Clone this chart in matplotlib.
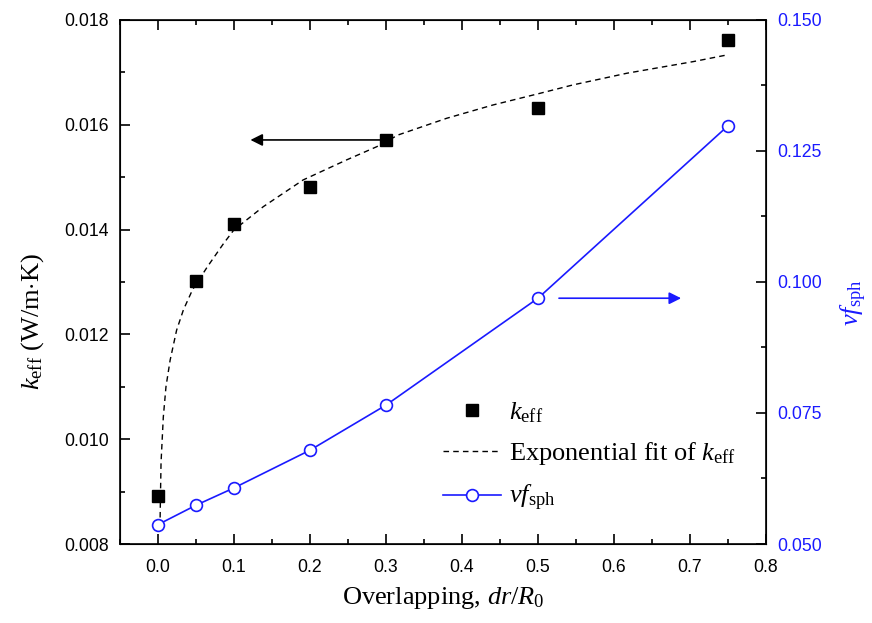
import matplotlib.pyplot as plt
from matplotlib.ticker import MultipleLocator

# data
overlap = [0.0, 0.05, 0.1, 0.2, 0.3, 0.5, 0.75]
k_eff = [0.00892, 0.01302, 0.01411, 0.01482, 0.01571, 0.01632, 0.01762]
vf_sph = [0.0537, 0.0574, 0.0607, 0.0679, 0.0765, 0.0969, 0.1298]

# points
fit_x = [0.0026, 0.004, 0.007, 0.0105, 0.016, 0.0245, 0.0335, 0.0454, 0.065,
         0.0866, 0.0997, 0.1386, 0.191, 0.248, 0.288, 0.316, 0.380, 0.441,
         0.503, 0.546, 0.617, 0.704, 0.748]
fit_k = [0.00832, 0.00955, 0.01042, 0.0110, 0.01151, 0.01208, 0.01247, 0.01285,
         0.01329, 0.01374, 0.01399, 0.014437, 0.014947, 0.015328, 0.015582,
         0.015805, 0.016124, 0.016378, 0.016601, 0.01676, 0.016983, 0.017204, 0.01733]

serif = 'Liberation Serif'
sans = 'Liberation Sans'
blue = '#1a1aff'

plt.rcParams['mathtext.fontset'] = 'custom'
plt.rcParams['mathtext.rm'] = serif
plt.rcParams['mathtext.it'] = serif + ':italic'
plt.rcParams['mathtext.bf'] = serif + ':bold'

fig = plt.figure(figsize=(8.72, 6.23), dpi=100)
ax = fig.add_axes([0.1376, 0.1268, 0.7408, 0.8412])
ax2 = ax.twinx()

l1, = ax.plot(overlap, k_eff, 's', color='black', markersize=8, linestyle='none')
l2, = ax.plot(fit_x, fit_k, '--', color='black', linewidth=1, dashes=(4, 3))
l3, = ax2.plot(overlap, vf_sph, '-o', color=blue, linewidth=1.2, markersize=8.5,
               markerfacecolor='white', markeredgecolor=blue, markeredgewidth=1.2)

ax.set_xlim(-0.05, 0.8)
ax.set_ylim(0.008, 0.018)
ax2.set_ylim(0.050, 0.150)

ax.xaxis.set_major_locator(MultipleLocator(0.1))
ax.xaxis.set_minor_locator(MultipleLocator(0.05))
ax.yaxis.set_major_locator(MultipleLocator(0.002))
ax.yaxis.set_minor_locator(MultipleLocator(0.001))
ax2.yaxis.set_major_locator(MultipleLocator(0.025))
ax2.yaxis.set_minor_locator(MultipleLocator(0.0125))

ax.tick_params(which='both', direction='in', top=True, width=1.2)
ax.tick_params(which='major', length=7, labelsize=12.7)
ax.tick_params(which='minor', length=3.5)
ax.tick_params(axis='x', which='major', pad=10.5)
ax.tick_params(axis='y', which='major', pad=8)
ax2.tick_params(which='both', direction='in', width=1.2, colors='black', labelcolor=blue)
ax2.tick_params(which='major', length=7, labelsize=12.7, pad=8)
ax2.tick_params(which='minor', length=3.5)

ax.xaxis.set_major_formatter(lambda v, p: f'{v:.1f}')
ax.yaxis.set_major_formatter(lambda v, p: f'{v:.3f}')
ax2.yaxis.set_major_formatter(lambda v, p: f'{v:.3f}')
for lab in ax.get_xticklabels() + ax.get_yticklabels() + ax2.get_yticklabels():
    lab.set_family(sans)

for sp in ax2.spines.values():
    sp.set_linewidth(1.2)

ax.set_xlabel(r'Overlapping, $\mathit{dr}/\mathit{R}_{0}$', fontfamily=serif,
              fontsize=19, labelpad=7)
ax.set_ylabel(r'$\mathit{k}_{\mathrm{eff}}$ (W/m$\cdot$K)', fontfamily=serif,
              fontsize=19, labelpad=13)
ax.yaxis.label.set_y(0.424)
ax2.set_ylabel(r'$\mathit{vf}_{\mathrm{sph}}$', fontfamily=serif, fontsize=19,
               color=blue, labelpad=12)
ax2.yaxis.label.set_y(0.46)

# arrows pointing at the axes
ax.annotate('', xy=(0.118, 0.01571), xytext=(0.3, 0.01571),
            arrowprops=dict(arrowstyle='-|>', color='black', lw=1.2, mutation_scale=18))
ax2.annotate('', xy=(0.692, 0.0969), xytext=(0.524, 0.0969),
             arrowprops=dict(arrowstyle='-|>', color=blue, lw=1.2, mutation_scale=18))

leg = ax.legend([l1, l2, l3],
                [r'$\mathit{k}_{\mathrm{eff}}$', r'Exponential fit of $\mathit{k}_{\mathrm{eff}}$',
                 r'$\mathit{vf}_{\mathrm{sph}}$'],
                loc='upper left', bbox_to_anchor=(0.463, 0.32), frameon=False,
                prop={'family': serif, 'size': 19}, handlelength=2.2,
                handletextpad=0.3, labelspacing=0.6)

fig.savefig('out.png', dpi=100)
